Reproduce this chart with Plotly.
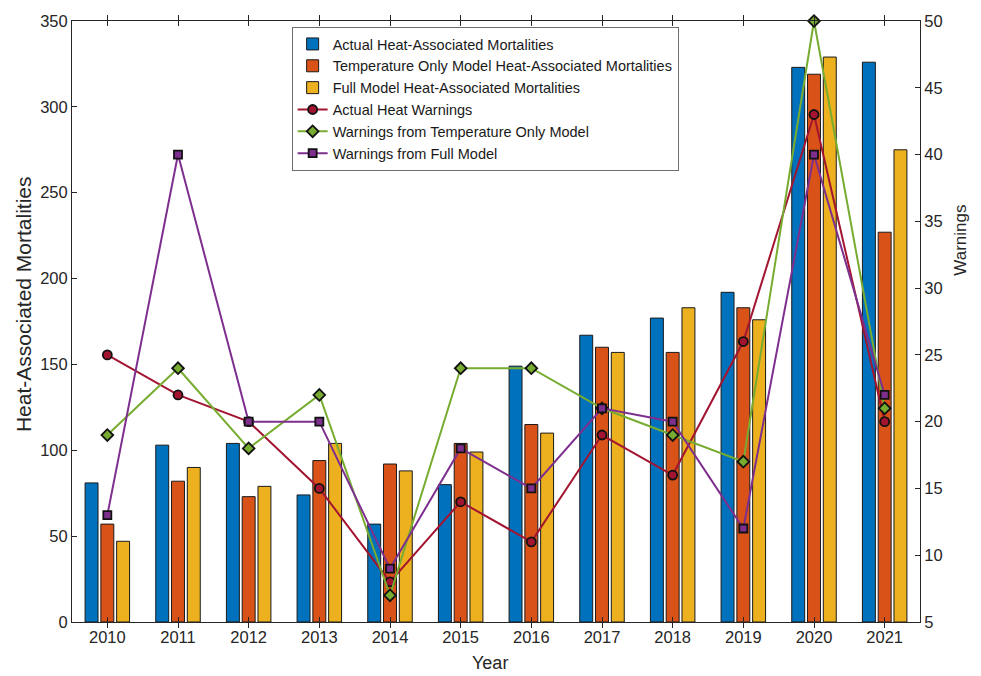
import plotly.graph_objects as go

# Years on the category axis
years = [2010, 2011, 2012, 2013, 2014, 2015, 2016, 2017, 2018, 2019, 2020, 2021]

# Heat-associated mortalities (left axis)
actual_mort = [81, 103, 104, 74, 57, 80, 149, 167, 177, 192, 323, 326]
temp_only_mort = [57, 82, 73, 94, 92, 104, 115, 160, 157, 183, 319, 227]
full_model_mort = [47, 90, 79, 104, 88, 99, 110, 157, 183, 176, 329, 275]

# Warnings (right axis)
actual_warn = [25, 22, 20, 15, 8, 14, 11, 19, 16, 26, 43, 20]
temp_only_warn = [19, 24, 18, 22, 7, 24, 24, 21, 19, 17, 50, 21]
full_model_warn = [13, 40, 20, 20, 9, 18, 15, 21, 20, 12, 40, 22]

FONT = "Arial, 'Liberation Sans', Helvetica, sans-serif"
TXT = "#262626"
AX = "#262626"

fig = go.Figure()

bar_specs = [
    ("Actual Heat-Associated Mortalities", actual_mort, "#0072BD"),
    ("Temperature Only Model Heat-Associated Mortalities", temp_only_mort, "#D95319"),
    ("Full Model Heat-Associated Mortalities", full_model_mort, "#EDB120"),
]
for name, vals, col in bar_specs:
    fig.add_trace(go.Bar(
        x=years, y=vals, name=name,
        marker=dict(color=col, line=dict(color="#1a1a1a", width=1)),
        yaxis="y",
    ))

line_specs = [
    ("Actual Heat Warnings", actual_warn, "#A2142F", "circle", 9),
    ("Warnings from Temperature Only Model", temp_only_warn, "#77AC30", "diamond", 9),
    ("Warnings from Full Model", full_model_warn, "#7E2F8E", "square", 8),
]
for name, vals, col, sym, sz in line_specs:
    fig.add_trace(go.Scatter(
        x=years, y=vals, name=name, mode="lines+markers",
        line=dict(color=col, width=2),
        marker=dict(symbol=sym, size=sz, color=col,
                    line=dict(color="#111111", width=1.8)),
        cliponaxis=False,
        yaxis="y2",
    ))

# Axis titles placed as paper-anchored annotations
titles = [
    dict(text="Heat-Associated Mortalities", x=-0.0578, y=0.529, textangle=-90, size=21),
    dict(text="Warnings", x=1.0483, y=0.636, textangle=-90, size=17),
    dict(text="Year", x=0.4929, y=-0.0675, textangle=0, size=18),
]
annotations = [
    dict(text=t["text"], x=t["x"], y=t["y"], xref="paper", yref="paper",
         xanchor="center", yanchor="middle", textangle=t["textangle"],
         showarrow=False, font=dict(family=FONT, size=t["size"], color=TXT))
    for t in titles
]

fig.update_layout(
    width=981, height=676,
    margin=dict(l=72, r=61, t=15, b=54),
    paper_bgcolor="white", plot_bgcolor="white",
    font=dict(family=FONT, size=16, color=TXT),
    barmode="group", bargap=0.33, bargroupgap=0.18,
    showlegend=True,
    legend=dict(
        x=0.259, y=0.990, xanchor="left", yanchor="top",
        bgcolor="white", bordercolor="#6e6e6e", borderwidth=1,
        font=dict(family=FONT, size=14.5, color="#1a1a1a"),
        tracegroupgap=0, itemwidth=30,
    ),
    annotations=annotations,
    xaxis=dict(
        range=[2009.5, 2021.5],
        tickmode="array", tickvals=years, ticktext=[str(y) for y in years],
        ticks="inside", ticklen=5, tickcolor=AX,
        showline=True, linecolor=AX, linewidth=1, mirror="allticks",
        showgrid=False, zeroline=False,
        tickfont=dict(size=16.5, color=TXT),
    ),
    yaxis=dict(
        range=[0, 350], tickmode="linear", tick0=0, dtick=50,
        ticks="inside", ticklen=5, tickcolor=AX,
        showline=True, linecolor=AX, linewidth=1,
        showgrid=False, zeroline=False,
        tickfont=dict(size=16.5, color=TXT),
    ),
    yaxis2=dict(
        range=[5, 50], tickmode="linear", tick0=5, dtick=5,
        overlaying="y", side="right",
        ticks="inside", ticklen=5, tickcolor=AX,
        showline=True, linecolor=AX, linewidth=1,
        showgrid=False, zeroline=False,
        tickfont=dict(size=16.5, color=TXT),
    ),
)

fig.write_html("out.html")
